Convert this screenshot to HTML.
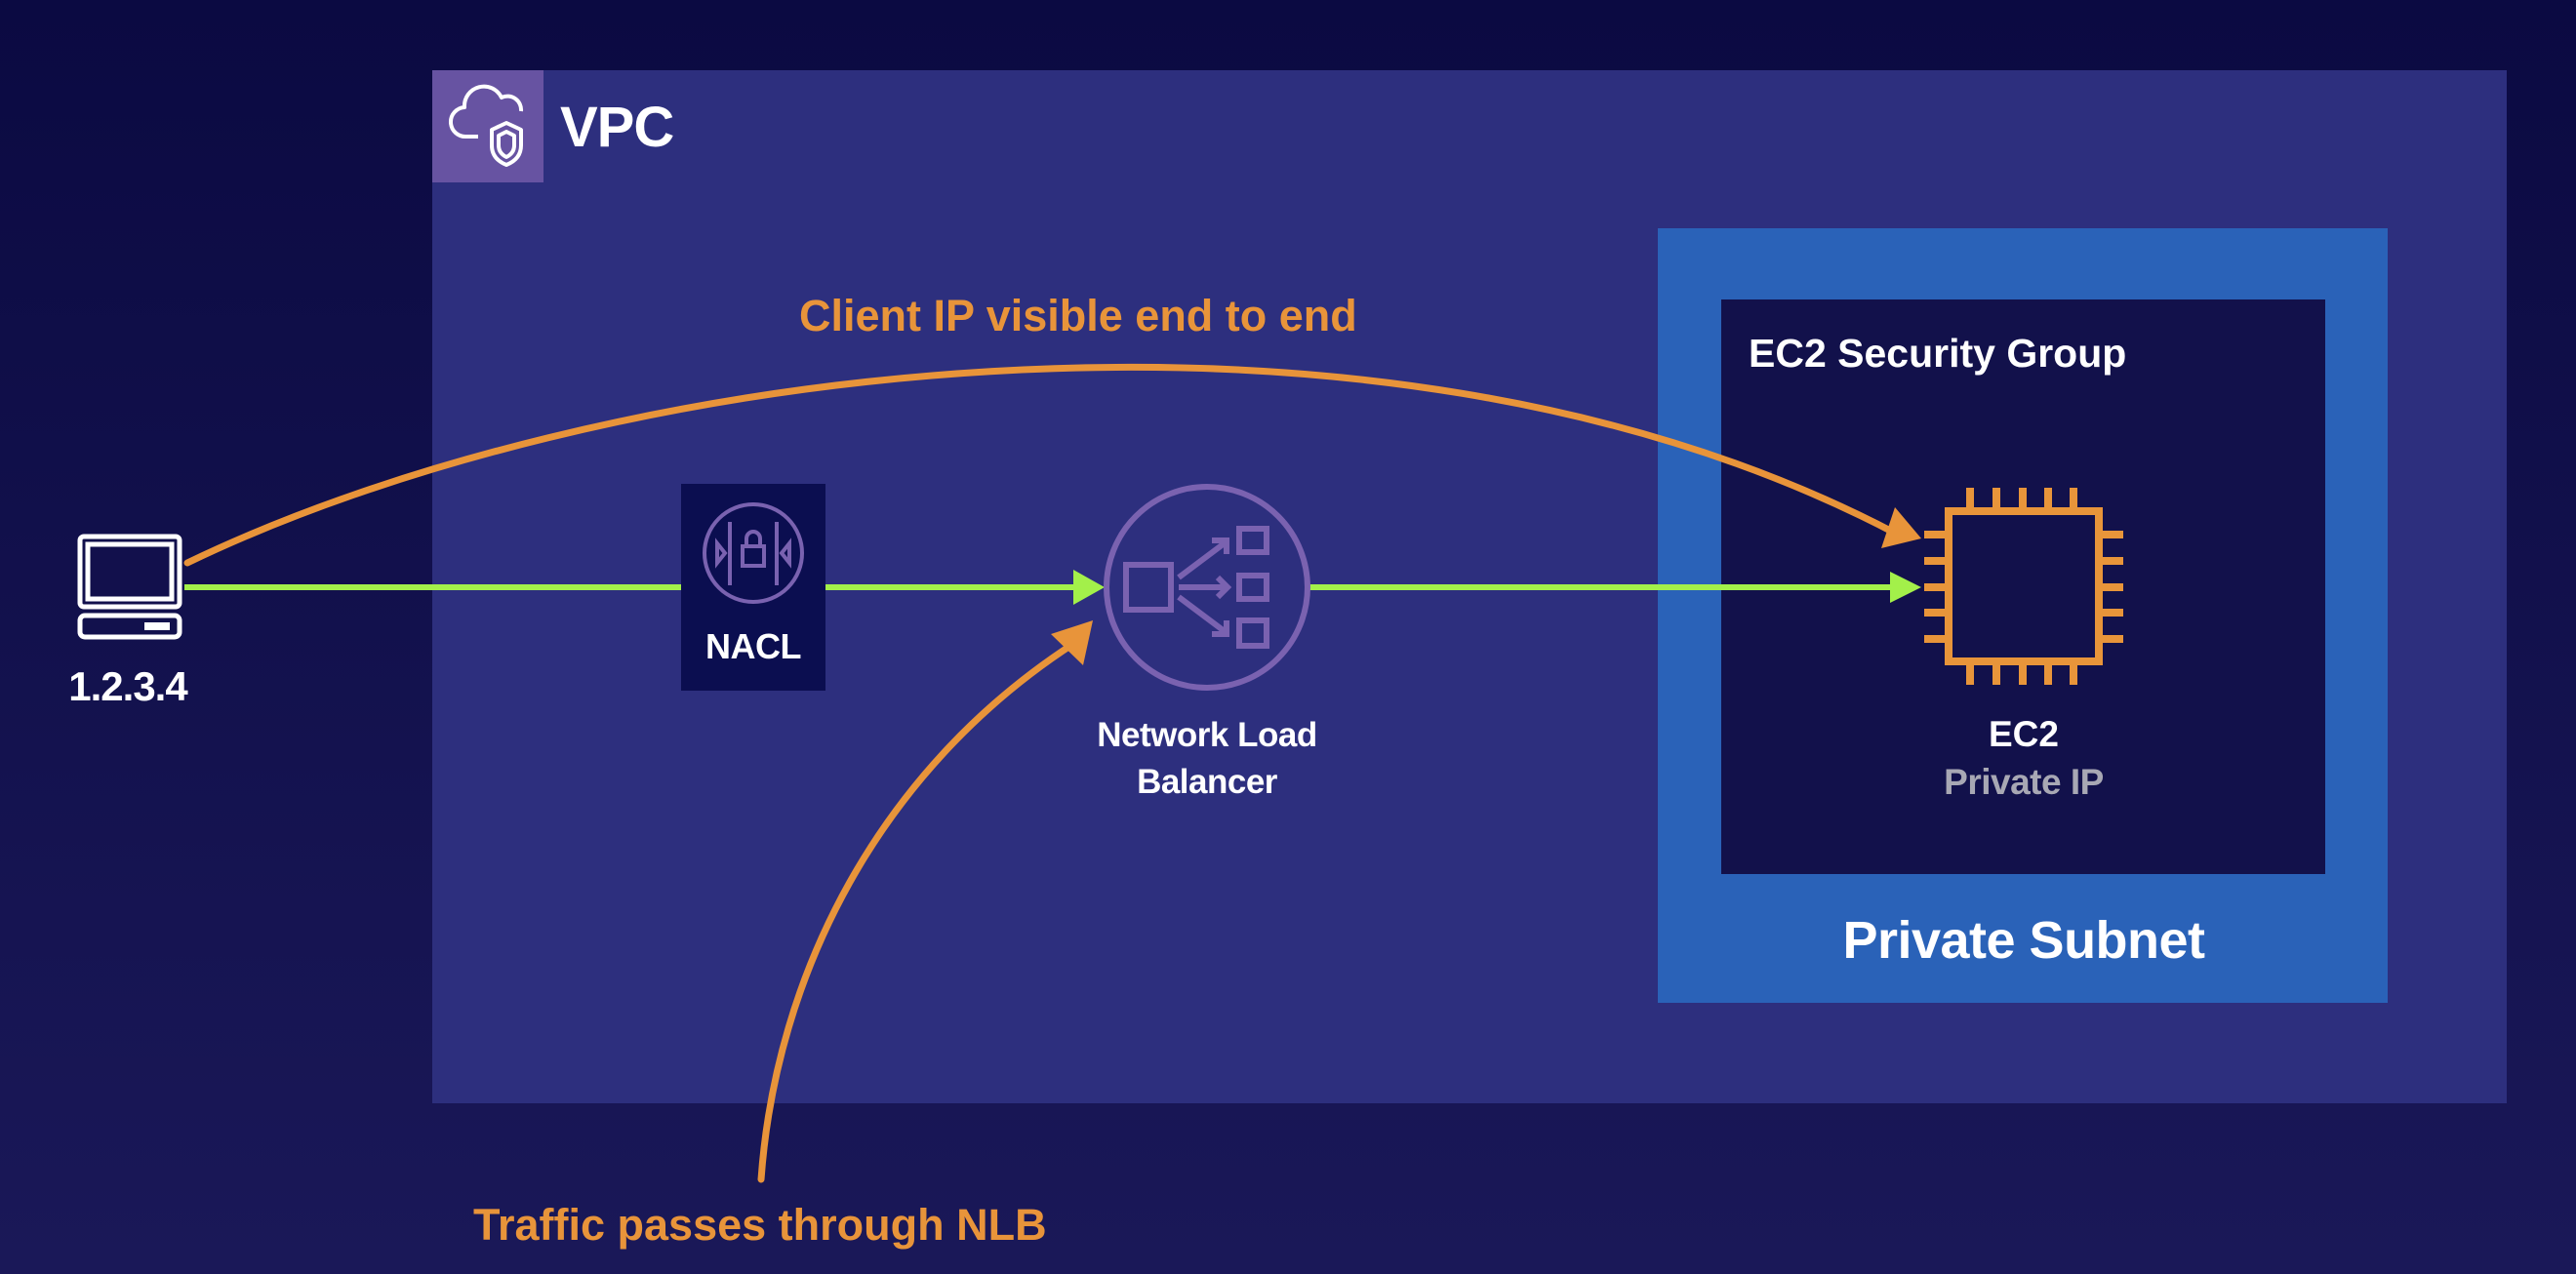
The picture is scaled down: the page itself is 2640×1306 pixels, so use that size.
<!DOCTYPE html>
<html><head><meta charset="utf-8"><style>
html,body{margin:0;padding:0;width:2640px;height:1306px;overflow:hidden;background:#0e0c45}
svg{display:block}
text{font-family:"Liberation Sans",sans-serif;font-weight:bold}
</style></head><body>
<svg width="2640" height="1306" viewBox="0 0 2640 1306" xmlns="http://www.w3.org/2000/svg">
<defs>
<linearGradient id="bg" x1="0" y1="0" x2="0" y2="1">
<stop offset="0" stop-color="#0b0a42"/><stop offset="1" stop-color="#1a1858"/>
</linearGradient>
</defs>
<rect width="2640" height="1306" fill="url(#bg)"/>
<!-- VPC -->
<rect x="443" y="72" width="2126" height="1059" fill="#2d2f7e"/>
<rect x="443" y="72" width="114" height="115" fill="#6753a2"/>
<g fill="none" stroke="#fff" stroke-width="4" stroke-linejoin="round">
<path d="M490,140 H478 a15,15 0 0 1 -2,-30 a20,20 0 0 1 38,-10 a14,14 0 0 1 20,14"/>
<path d="M519,126 l15,7 v16 q0,14 -15,20 q-15,-6 -15,-20 v-16 z"/>
<path d="M519,135 l8,4 v10 q0,8 -8,12 q-8,-4 -8,-12 v-10 z"/>
</g>
<text x="574" y="150" font-size="58" fill="#fff" letter-spacing="-1">VPC</text>
<!-- Subnet -->
<rect x="1699" y="234" width="748" height="794" fill="#2a62b8"/>
<rect x="1764" y="307" width="619" height="589" fill="#12114b"/>
<text x="1792" y="376" font-size="41" fill="#fff" letter-spacing="0">EC2 Security Group</text>
<text x="2074" y="982" font-size="54" fill="#fff" text-anchor="middle" letter-spacing="-0.5">Private Subnet</text>
<!-- EC2 chip -->
<rect x="1997" y="524" width="154" height="154" fill="none" stroke="#e8953a" stroke-width="8"/>
<g stroke="#e8953a" stroke-width="8">
<path d="M2019,500V520M2046,500V520M2073,500V520M2099,500V520M2125,500V520"/>
<path d="M2019,682V702M2046,682V702M2073,682V702M2099,682V702M2125,682V702"/>
<path d="M1972,548H1993M1972,575H1993M1972,602H1993M1972,628H1993M1972,655H1993"/>
<path d="M2155,548H2176M2155,575H2176M2155,602H2176M2155,628H2176M2155,655H2176"/>
</g>
<text x="2074" y="765" font-size="37" fill="#fff" text-anchor="middle">EC2</text>
<text x="2074" y="814" font-size="37" fill="#a8a8b4" text-anchor="middle" letter-spacing="-0.5">Private IP</text>
<!-- green line -->
<line x1="189" y1="602" x2="1105" y2="602" stroke="#a3f04a" stroke-width="6"/>
<polygon points="1100,584 1132,602 1100,620" fill="#a3f04a"/>
<line x1="1341" y1="602" x2="1940" y2="602" stroke="#a3f04a" stroke-width="6"/>
<polygon points="1937,586 1969,602 1937,618" fill="#a3f04a"/>
<!-- NACL -->
<rect x="698" y="496" width="148" height="212" fill="#0b0e50"/>
<g fill="none" stroke="#7a62b0" stroke-width="4">
<circle cx="772" cy="567" r="50"/>
<path d="M748,535V600M796,535V600"/>
<rect x="761" y="560" width="22" height="20"/>
<path d="M765,560v-8a7,7 0 0 1 14,0v8"/>
<path d="M735,557l8,10l-8,10zM809,557l-8,10l8,10z"/>
</g>
<text x="772" y="675" font-size="36" fill="#fff" text-anchor="middle" letter-spacing="-0.5">NACL</text>
<!-- NLB -->
<circle cx="1237" cy="602" r="103" fill="#2d2f7e" stroke="#7a62b0" stroke-width="6"/>
<g fill="none" stroke="#7a62b0" stroke-width="6">
<rect x="1154" y="579" width="46" height="46"/>
<rect x="1270" y="542" width="28" height="24"/>
<rect x="1270" y="590" width="28" height="24"/>
<rect x="1270" y="636" width="28" height="26"/>
<path d="M1208,592L1256,556M1242,554h15v14"/>
<path d="M1208,602H1258M1248,592l10,10l-10,10"/>
<path d="M1208,612L1256,648M1242,650h15v-14"/>
</g>
<text x="1237" y="765" font-size="35" fill="#fff" text-anchor="middle" letter-spacing="-0.5">Network Load</text>
<text x="1237" y="813" font-size="35" fill="#fff" text-anchor="middle" letter-spacing="-0.5">Balancer</text>
<!-- computer -->
<g fill="none" stroke="#fff" stroke-width="5">
<rect x="82" y="550" width="102" height="72" rx="4"/>
<rect x="90" y="558" width="86" height="56"/>
<rect x="82" y="631" width="102" height="22" rx="5"/>
</g>
<rect x="148" y="638" width="26" height="8" fill="#fff"/>
<text x="131" y="718" font-size="42" fill="#fff" text-anchor="middle" letter-spacing="-1">1.2.3.4</text>
<!-- orange annotations -->
<path d="M192,577 C600,380 1400,260 1945,548" fill="none" stroke="#e8943a" stroke-width="7" stroke-linecap="round"/>
<polygon points="1969,552 1928,562 1942,520" fill="#e8943a"/>
<path d="M780,1209 C795,1000 900,790 1100,660" fill="none" stroke="#e8943a" stroke-width="7" stroke-linecap="round"/>
<polygon points="1120,636 1110,682 1077,650" fill="#e8943a"/>
<text x="819" y="339" font-size="45" fill="#e8943a" letter-spacing="0">Client IP visible end to end</text>
<text x="485" y="1271" font-size="45" fill="#e8943a" letter-spacing="0">Traffic passes through NLB</text>
</svg>
</body></html>
